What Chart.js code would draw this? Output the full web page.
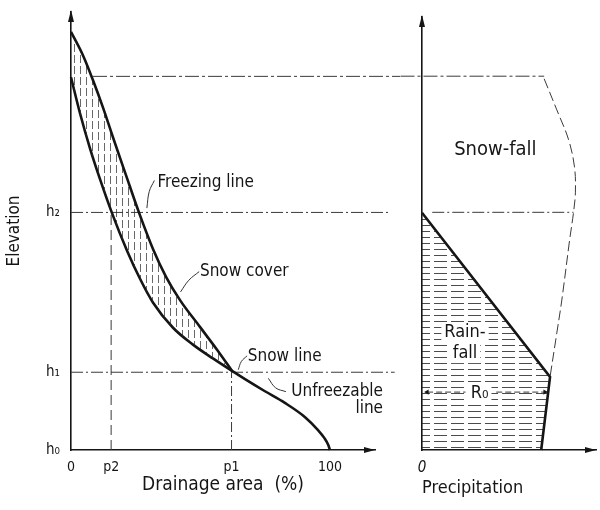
<!DOCTYPE html>
<html><head><meta charset="utf-8">
<script src="https://cdn.jsdelivr.net/npm/chart.js@4/dist/chart.umd.min.js"></script>
<style>
html,body{margin:0;padding:0;background:#fff;}
#wrap{position:relative;width:600px;height:510px;background:#fff;}
#left{position:absolute;left:0;top:0;width:400px;height:510px;}
#right{position:absolute;left:400px;top:0;width:200px;height:510px;}
</style></head><body>
<div id="wrap">
<div id="left"><canvas id="cl"></canvas></div>
<div id="right"><canvas id="cr"></canvas></div>
</div>
<script>
// ---------- data ----------
const elevTicks = [0, 18, 55];
const elevTickLabels = ['h₀', 'h₁', 'h₂'];
const areaTicks = [0, 15.5, 62, 100];
const areaTickLabels = ['0', 'p2', 'p1', '100'];
const precipTicks = [0];
const precipTickLabels = ['0'];
const h1Level = 18;
const h2Level = 55;
const topLevel = 86.5;
const p2Value = 15.5;
const p1Value = 62;

// Freezing line (upper boundary of snow cover): drainage area % vs elevation
const freezeX = [0, 4.6, 8.5, 12.4, 16.2, 21.2, 26.3, 31.7, 36.7, 42.1, 49.8, 56.4, 62.2];
const freezeY = [96.8, 91.4, 85.6, 79.2, 72.4, 63.7, 54.9, 46.5, 40.1, 34.7, 28.5, 23.2, 18.3];
// Snow-cover lower boundary continuing as the unfreezable line (hypsometric curve)
const hypsoX = [0, 3.5, 7.3, 11.2, 15.8, 21.6, 26.6, 31.7, 39.4, 47.1, 54.8, 62.2, 67.2, 74.9, 82.6, 90.4, 95.4, 97.8, 99.4, 100];
const hypsoY = [86.3, 77.9, 69.9, 62.7, 54.9, 46.2, 39.7, 34.1, 28.3, 24.4, 21.2, 18.3, 16.4, 13.6, 10.9, 7.6, 4.6, 2.8, 1.1, 0];

// Right panel: precipitation vs elevation
const rainX = [0, 100, 93.1];
const rainY = [54.9, 16.9, 0];
const snowfallX = [95.4, 105.3, 114.5, 119.1, 119.8, 118.3, 115.3, 109.2, 105.3, 100];
const snowfallY = [85.9, 78.7, 71.8, 65.5, 59.5, 54.9, 48.6, 34.7, 27.1, 16.9];
const r0Level = 13.4;
const r0Range = [0, 100];

// ---------- helpers ----------
const pts = (xs, ys) => xs.map((x, i) => ({x, y: ys[i]}));
const INK = '#151515';
const FONT = "'DejaVu Sans Condensed','DejaVu Sans',sans-serif";
Chart.defaults.font.family = FONT;
Chart.defaults.color = INK;

function makePattern(w, h, draw) {
  const c = document.createElement('canvas');
  c.width = w; c.height = h;
  const g = c.getContext('2d');
  draw(g);
  return g.createPattern(c, 'repeat');
}
const vHatch = makePattern(6, 11, g => {
  g.strokeStyle = 'rgba(40,40,40,0.7)'; g.lineWidth = 1;
  g.beginPath(); g.moveTo(2.5, 0); g.lineTo(2.5, 8); g.stroke();
});
const hHatch = makePattern(17, 6, g => {
  g.strokeStyle = 'rgba(30,30,30,0.8)'; g.lineWidth = 1;
  g.beginPath(); g.moveTo(0, 3.5); g.lineTo(13, 3.5); g.stroke();
});

const arrowPlugin = {
  id: 'arrows',
  afterDraw(chart) {
    const {ctx, chartArea: a} = chart;
    ctx.save();
    ctx.fillStyle = INK;
    ctx.beginPath();
    ctx.moveTo(a.left, a.top - 2);
    ctx.lineTo(a.left - 3, a.top + 10);
    ctx.lineTo(a.left + 3, a.top + 10);
    ctx.closePath(); ctx.fill();
    ctx.beginPath();
    ctx.moveTo(a.right, a.bottom);
    ctx.lineTo(a.right - 11, a.bottom - 3);
    ctx.lineTo(a.right - 11, a.bottom + 3);
    ctx.closePath(); ctx.fill();
    ctx.restore();
  }
};

const notesPlugin = {
  id: 'notes',
  afterDatasetsDraw(chart, args, opts) {
    const {ctx, scales: {x, y}} = chart;
    ctx.save();
    (opts.items || []).forEach(n => {
      const px = x.getPixelForValue(n.x), py = y.getPixelForValue(n.y);
      const size = n.size || 17;
      ctx.font = `${size}px ${FONT}`;
      ctx.textAlign = n.align || 'left';
      ctx.textBaseline = 'middle';
      if (n.bg) {
        const w = ctx.measureText(n.text).width;
        const lx = n.align === 'center' ? px - w / 2 : (n.align === 'right' ? px - w : px);
        ctx.fillStyle = '#fff';
        ctx.fillRect(lx - 3, py - size * 0.55, w + 6, size * 1.1);
      }
      ctx.fillStyle = INK;
      ctx.fillText(n.text, px, py);
    });
    ctx.restore();
  }
};

const solid = (data, extra) => Object.assign({
  data, borderColor: INK, borderWidth: 2.6, pointRadius: 0, fill: false,
  cubicInterpolationMode: 'monotone', clip: false
}, extra || {});
const dashed = (data, dash, extra) => Object.assign({
  data, borderColor: '#3a3a3a', borderWidth: 1, borderDash: dash, pointRadius: 0,
  fill: false, tension: 0, clip: false
}, extra || {});
const thin = (data) => ({data, borderColor: '#333', borderWidth: 1, pointRadius: 0, fill: false, tension: 0.4, clip: false});

const commonOpts = {
  responsive: true, maintainAspectRatio: false, animation: false, events: [],
  plugins: {legend: {display: false}, tooltip: {enabled: false}}
};
const fixX = h => s => { s.height = h; s.paddingLeft = 0; s.paddingRight = 0; };
const fixY = w => s => { s.width = w; s.paddingTop = 0; s.paddingBottom = 0; };

// ---------- left chart ----------
new Chart(document.getElementById('cl'), {
  type: 'line',
  data: {datasets: [
    solid(pts(freezeX, freezeY), {fill: 1, backgroundColor: vHatch}),
    solid(pts(hypsoX, hypsoY)),
    dashed([{x: 0, y: h2Level}, {x: 123, y: h2Level}], [12, 3, 2, 3]),
    dashed([{x: 0, y: h1Level}, {x: 125, y: h1Level}], [12, 3, 2, 3]),
    dashed([{x: 8.5, y: topLevel}, {x: 128, y: topLevel}], [14, 3, 3, 3]),
    dashed([{x: p2Value, y: 0}, {x: p2Value, y: h2Level}], [10, 5]),
    dashed([{x: p1Value, y: 0}, {x: p1Value, y: h1Level}], [10, 3, 2, 3]),
    thin([{x: 32.2, y: 62.4}, {x: 30.2, y: 59.8}, {x: 29.3, y: 56}]),
    thin([{x: 49.5, y: 41.3}, {x: 45.5, y: 39.3}, {x: 42.3, y: 36.6}]),
    thin([{x: 68.0, y: 21.8}, {x: 65.8, y: 20.5}, {x: 64.6, y: 18.6}]),
    thin([{x: 83.0, y: 13.5}, {x: 79.0, y: 14.4}, {x: 76.2, y: 16.6}])
  ]},
  options: Object.assign({}, commonOpts, {
    layout: {padding: {left: 0, right: 25, top: 12, bottom: 0}},
    scales: {
      x: {
        type: 'linear', min: 0, max: 117.4,
        grid: {display: false, drawTicks: false},
        border: {display: true, color: INK, width: 1.6},
        afterBuildTicks: s => { s.ticks = areaTicks.map(v => ({value: v})); },
        afterFit: fixX(60),
        ticks: {autoSkip: false, maxRotation: 0, padding: 9, color: INK, font: {size: 14},
          callback: (v, i) => areaTickLabels[i]},
        title: {display: true, text: 'Drainage area  (%)', color: INK, font: {size: 19},
          padding: {top: 0, bottom: 14}}
      },
      y: {
        type: 'linear', min: 0, max: 101.4,
        grid: {display: false, drawTicks: false},
        border: {display: true, color: INK, width: 1.6},
        afterBuildTicks: s => { s.ticks = elevTicks.map(v => ({value: v})); },
        afterFit: fixY(71),
        ticks: {autoSkip: false, padding: 11, color: INK, font: {size: 15},
          callback: (v, i) => elevTickLabels[i]},
        title: {display: true, text: 'Elevation', color: INK, font: {size: 17},
          padding: {top: 4, bottom: 0}}
      }
    },
    plugins: Object.assign({}, commonOpts.plugins, {
      notes: {items: [
        {text: 'Freezing line', x: 33.4, y: 62.0},
        {text: 'Snow cover', x: 49.8, y: 41.2},
        {text: 'Snow line', x: 68.3, y: 21.6},
        {text: 'Unfreezable', x: 120.5, y: 13.5, align: 'right'},
        {text: 'line', x: 120.5, y: 9.5, align: 'right'}
      ]}
    })
  }),
  plugins: [arrowPlugin, notesPlugin]
});

// ---------- right chart ----------
const rainShape = pts(rainX, rainY).concat([{x: 0, y: 0}]);
new Chart(document.getElementById('cr'), {
  type: 'line',
  data: {datasets: [
    {data: rainShape, fill: 'shape', backgroundColor: hHatch, borderWidth: 0, pointRadius: 0, tension: 0, clip: false},
    solid(pts(rainX, rainY), {cubicInterpolationMode: 'default', tension: 0}),
    dashed(pts(snowfallX, snowfallY), [10, 4], {tension: 0.35}),
    dashed([{x: 8, y: h2Level}, {x: 118.3, y: h2Level}], [12, 3, 2, 3]),
    dashed([{x: -16.8, y: topLevel}, {x: 95.4, y: topLevel}], [14, 3, 3, 3]),
    dashed([{x: r0Range[0] + 4, y: r0Level}, {x: 34, y: r0Level}], [6, 3],
      {pointRadius: [3, 0], pointStyle: 'triangle', rotation: -90, pointBackgroundColor: INK, pointBorderColor: INK, pointBorderWidth: 0}),
    dashed([{x: 58, y: r0Level}, {x: r0Range[1] - 4, y: r0Level}], [6, 3],
      {pointRadius: [0, 3], pointStyle: 'triangle', rotation: 90, pointBackgroundColor: INK, pointBorderColor: INK, pointBorderWidth: 0})
  ]},
  options: Object.assign({}, commonOpts, {
    layout: {padding: {left: 0, right: 0, top: 17, bottom: 0}},
    scales: {
      x: {
        type: 'linear', min: 0, max: 135.9,
        grid: {display: false, drawTicks: false},
        border: {display: true, color: INK, width: 1.6},
        afterBuildTicks: s => { s.ticks = precipTicks.map(v => ({value: v})); },
        afterFit: fixX(60),
        ticks: {autoSkip: false, maxRotation: 0, padding: 9, color: INK, font: {size: 15, style: 'italic'},
          callback: (v, i) => precipTickLabels[i]},
        title: {display: true, text: 'Precipitation', align: 'start', color: INK, font: {size: 18},
          padding: {top: 0, bottom: 11}}
      },
      y: {
        type: 'linear', min: 0, max: 100.2,
        grid: {display: false, drawTicks: false},
        border: {display: true, color: INK, width: 1.6},
        afterFit: fixY(22),
        ticks: {display: false}
      }
    },
    plugins: Object.assign({}, commonOpts.plugins, {
      notes: {items: [
        {text: 'Snow-fall', x: 57.3, y: 69.4, size: 20, align: 'center'},
        {text: 'Rain-', x: 33.6, y: 27.3, size: 18, align: 'center', bg: true},
        {text: 'fall', x: 33.6, y: 22.4, size: 18, align: 'center', bg: true},
        {text: 'R₀', x: 45, y: 13.2, size: 18, align: 'center', bg: true}
      ]}
    })
  }),
  plugins: [arrowPlugin, notesPlugin]
});
</script>
</body></html>
